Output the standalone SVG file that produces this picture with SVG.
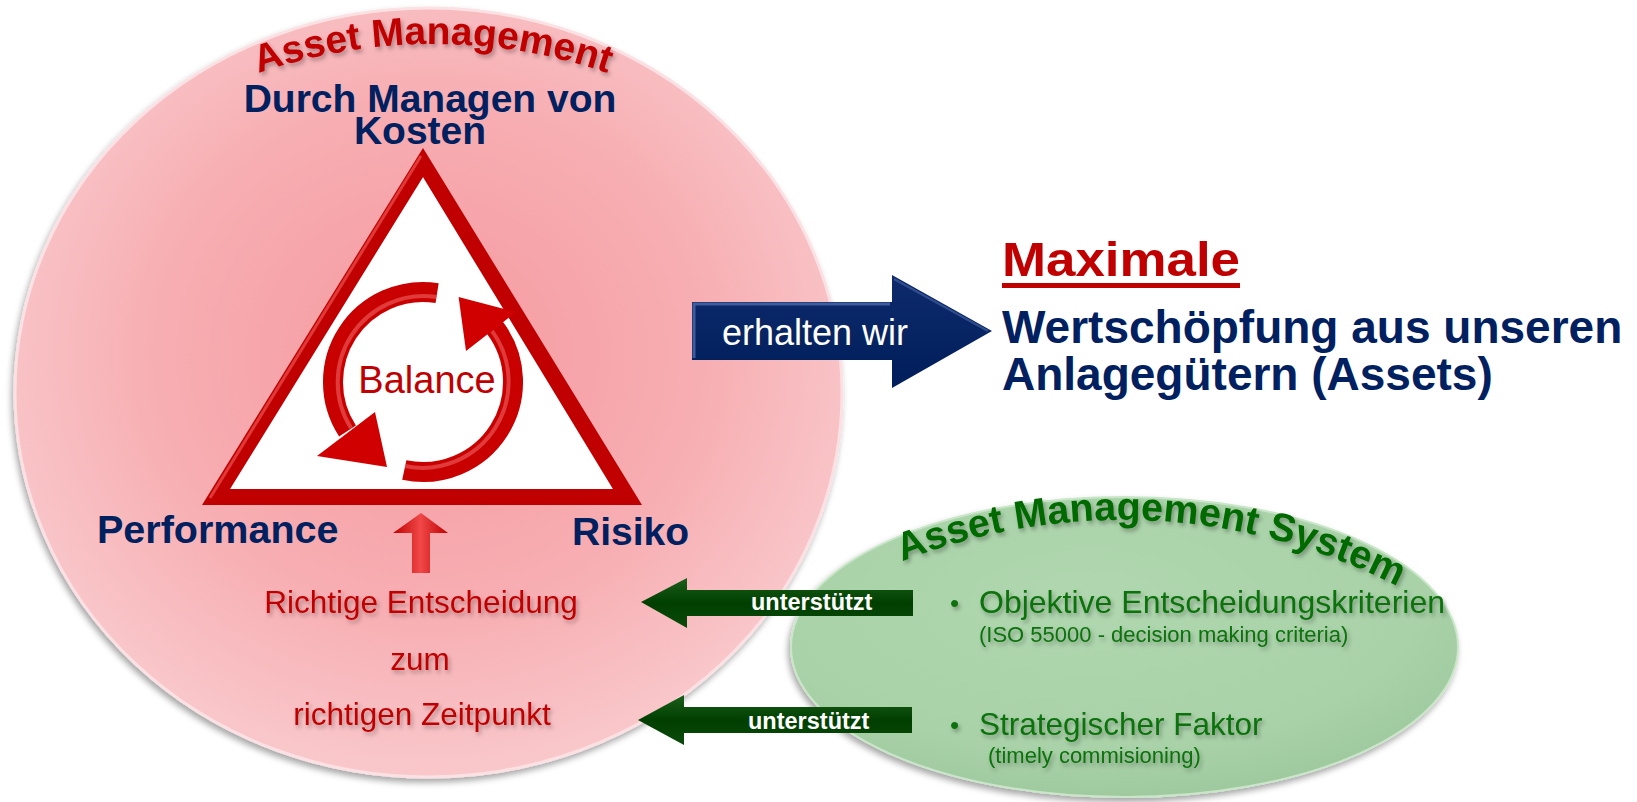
<svg xmlns="http://www.w3.org/2000/svg" width="1637" height="802" viewBox="0 0 1637 802">
<defs>
  <radialGradient id="pinkFill" cx="0.5" cy="0.45" r="0.55">
    <stop offset="0" stop-color="#F59AA0"/>
    <stop offset="0.6" stop-color="#F7AEB2"/>
    <stop offset="1" stop-color="#F9C8CB"/>
  </radialGradient>
  <radialGradient id="greenFill" cx="0.45" cy="0.35" r="0.65">
    <stop offset="0" stop-color="#B0D7AF"/>
    <stop offset="0.75" stop-color="#A9D2A8"/>
    <stop offset="1" stop-color="#9FC99E"/>
  </radialGradient>
  <linearGradient id="navyGrad" x1="0" y1="0" x2="0" y2="1">
    <stop offset="0" stop-color="#0E2A6C"/>
    <stop offset="1" stop-color="#001E5A"/>
  </linearGradient>
  <linearGradient id="greenArrow" x1="0" y1="0" x2="0" y2="1">
    <stop offset="0" stop-color="#1B5E1B"/>
    <stop offset="0.5" stop-color="#003F00"/>
    <stop offset="1" stop-color="#0A4A0A"/>
  </linearGradient>
  <linearGradient id="redArrow" x1="0" y1="0" x2="1" y2="0">
    <stop offset="0" stop-color="#C00000"/>
    <stop offset="0.5" stop-color="#F04848"/>
    <stop offset="1" stop-color="#C00000"/>
  </linearGradient>
  <filter id="ellShadow" x="-5%" y="-5%" width="110%" height="112%">
    <feDropShadow dx="-2" dy="4" stdDeviation="3" flood-color="#000" flood-opacity="0.35"/>
  </filter>
  <filter id="txtShadow" x="-5%" y="-20%" width="110%" height="150%">
    <feDropShadow dx="2" dy="3" stdDeviation="2" flood-color="#000" flood-opacity="0.3"/>
  </filter>
  <path id="arcRed" d="M233,82.7 A536,536 0 0 1 633,82.7"/>
  <path id="arcGreen" d="M846.9,586.1 A606,606 0 0 1 1450.3,616.6"/>
</defs>
<style>
  .bold { font-family: "Liberation Sans", Arial, sans-serif; font-weight: bold; }
  .reg { font-family: "Liberation Sans", Arial, sans-serif; }
  .navy { fill: #002060; }
  .red { fill: #C00000; }
  .grn { fill: #0A720A; }
  .white { fill: #FFFFFF; }
  .arc { fill: none; stroke: #C80000; stroke-width: 20; }
  .arcHi { fill: none; stroke: #F26060; stroke-width: 4; opacity: 0.6; }
  .head { fill: #D00000; }
</style>

<g id="asset-management">
  <ellipse cx="428.5" cy="392.5" rx="413.5" ry="384.5" fill="url(#pinkFill)" stroke="#FBE1E3" stroke-width="3" filter="url(#ellShadow)"/>
  <text class="bold red" font-size="39" filter="url(#txtShadow)"><textPath href="#arcRed" startOffset="50%" text-anchor="middle">Asset Management</textPath></text>
  <text class="bold navy" font-size="39" x="430" y="112" text-anchor="middle">Durch Managen von</text>
  <text class="bold navy" font-size="39" x="420" y="144" text-anchor="middle">Kosten</text>
</g>

<g id="triangle">
  <polygon points="423,177 230,489 613,489" fill="#FFFFFF"/>
  <path d="M423,148 L642,505 L202,505 Z M423,177 L230,489 L613,489 Z" fill="#C00000" fill-rule="evenodd"/>
  <polyline points="210,498 421,156" fill="none" stroke="#F05050" stroke-width="3" opacity="0.7"/>
</g>

<g id="balance">
  <path class="arc" d="M437.1,293.1 A90,90 0 0 0 347.5,431.0"/>
  <path class="arcHi" d="M436.5,297 A86,86 0 0 0 351,428"/>
  <polygon class="head" points="375,412 387,467 317,456"/>
  <path class="arc" d="M404.3,470 A90,90 0 0 0 494.9,327.8"/>
  <path class="arcHi" d="M405,466 A86,86 0 0 0 492,331"/>
  <polygon class="head" points="466,351 458.6,297 516,312"/>
  <text class="reg red" font-size="38" x="427" y="393" text-anchor="middle">Balance</text>
</g>

<g id="performance">
  <text class="bold navy" font-size="39.5" x="97" y="543">Performance</text>
</g>
<g id="risiko">
  <text class="bold navy" font-size="39" x="572" y="545">Risiko</text>
</g>

<g id="entscheidung" filter="url(#txtShadow)">
  <text class="reg red" font-size="31.5" x="421" y="613" text-anchor="middle">Richtige Entscheidung</text>
  <text class="reg red" font-size="31.5" x="420" y="670" text-anchor="middle">zum</text>
  <text class="reg red" font-size="31.5" x="422" y="725" text-anchor="middle">richtigen Zeitpunkt</text>
</g>

<g id="wertschoepfung">
  <text class="bold red" font-size="48" x="1002" y="276" textLength="238" lengthAdjust="spacingAndGlyphs">Maximale</text>
  <rect x="1002" y="283" width="238" height="5" fill="#C00000"/>
  <text class="bold navy" font-size="46" x="1002" y="343">Wertschöpfung aus unseren</text>
  <text class="bold navy" font-size="46" x="1002" y="390">Anlagegütern (Assets)</text>
</g>

<g id="asset-management-system">
  <ellipse cx="1124.5" cy="647" rx="333.5" ry="150" fill="url(#greenFill)" stroke="#C9E6C8" stroke-width="2" filter="url(#ellShadow)"/>
  <text class="bold" fill="#006A00" font-size="39.5" filter="url(#txtShadow)"><textPath href="#arcGreen" startOffset="50%" text-anchor="middle">Asset Management System</textPath></text>
  <g filter="url(#txtShadow)">
    <text class="reg grn" font-size="26" x="950" y="612">•</text>
    <text class="reg grn" font-size="32" x="979" y="613">Objektive Entscheidungskriterien</text>
    <text class="reg grn" font-size="22" x="979" y="642">(ISO 55000 - decision making criteria)</text>
    <text class="reg grn" font-size="26" x="950" y="734">•</text>
    <text class="reg grn" font-size="31.5" x="979" y="735">Strategischer Faktor</text>
    <text class="reg grn" font-size="22" x="988" y="763">(timely commisioning)</text>
  </g>
</g>

<g id="connectors">
  <g id="erhalten-wir">
    <polygon points="692,302 892,302 892,275 992,331 892,388 892,360 692,360" fill="url(#navyGrad)"/>
    <polyline points="694,358 694,304 890,304" fill="none" stroke="#4D6AA8" stroke-width="3" opacity="0.8"/>
    <polyline points="894,279 988,331" fill="none" stroke="#3A5796" stroke-width="2" opacity="0.8"/>
    <text class="reg white" font-size="36" x="722" y="345">erhalten wir</text>
  </g>
  <g id="up-arrow">
    <polygon points="421,513 448,533 430,533 430,573 412,573 412,533 393,533" fill="url(#redArrow)"/>
  </g>
  <g id="unterstuetzt-1">
    <polygon points="641,602 687,578 687,590 913,590 913,616 687,616 687,628" fill="url(#greenArrow)"/>
    <text class="bold white" font-size="23.5" x="751" y="610">unterstützt</text>
  </g>
  <g id="unterstuetzt-2">
    <polygon points="638,720 684,695 684,707 912,707 912,733 684,733 684,745" fill="url(#greenArrow)"/>
    <text class="bold white" font-size="23.5" x="748" y="729">unterstützt</text>
  </g>
</g>
</svg>
